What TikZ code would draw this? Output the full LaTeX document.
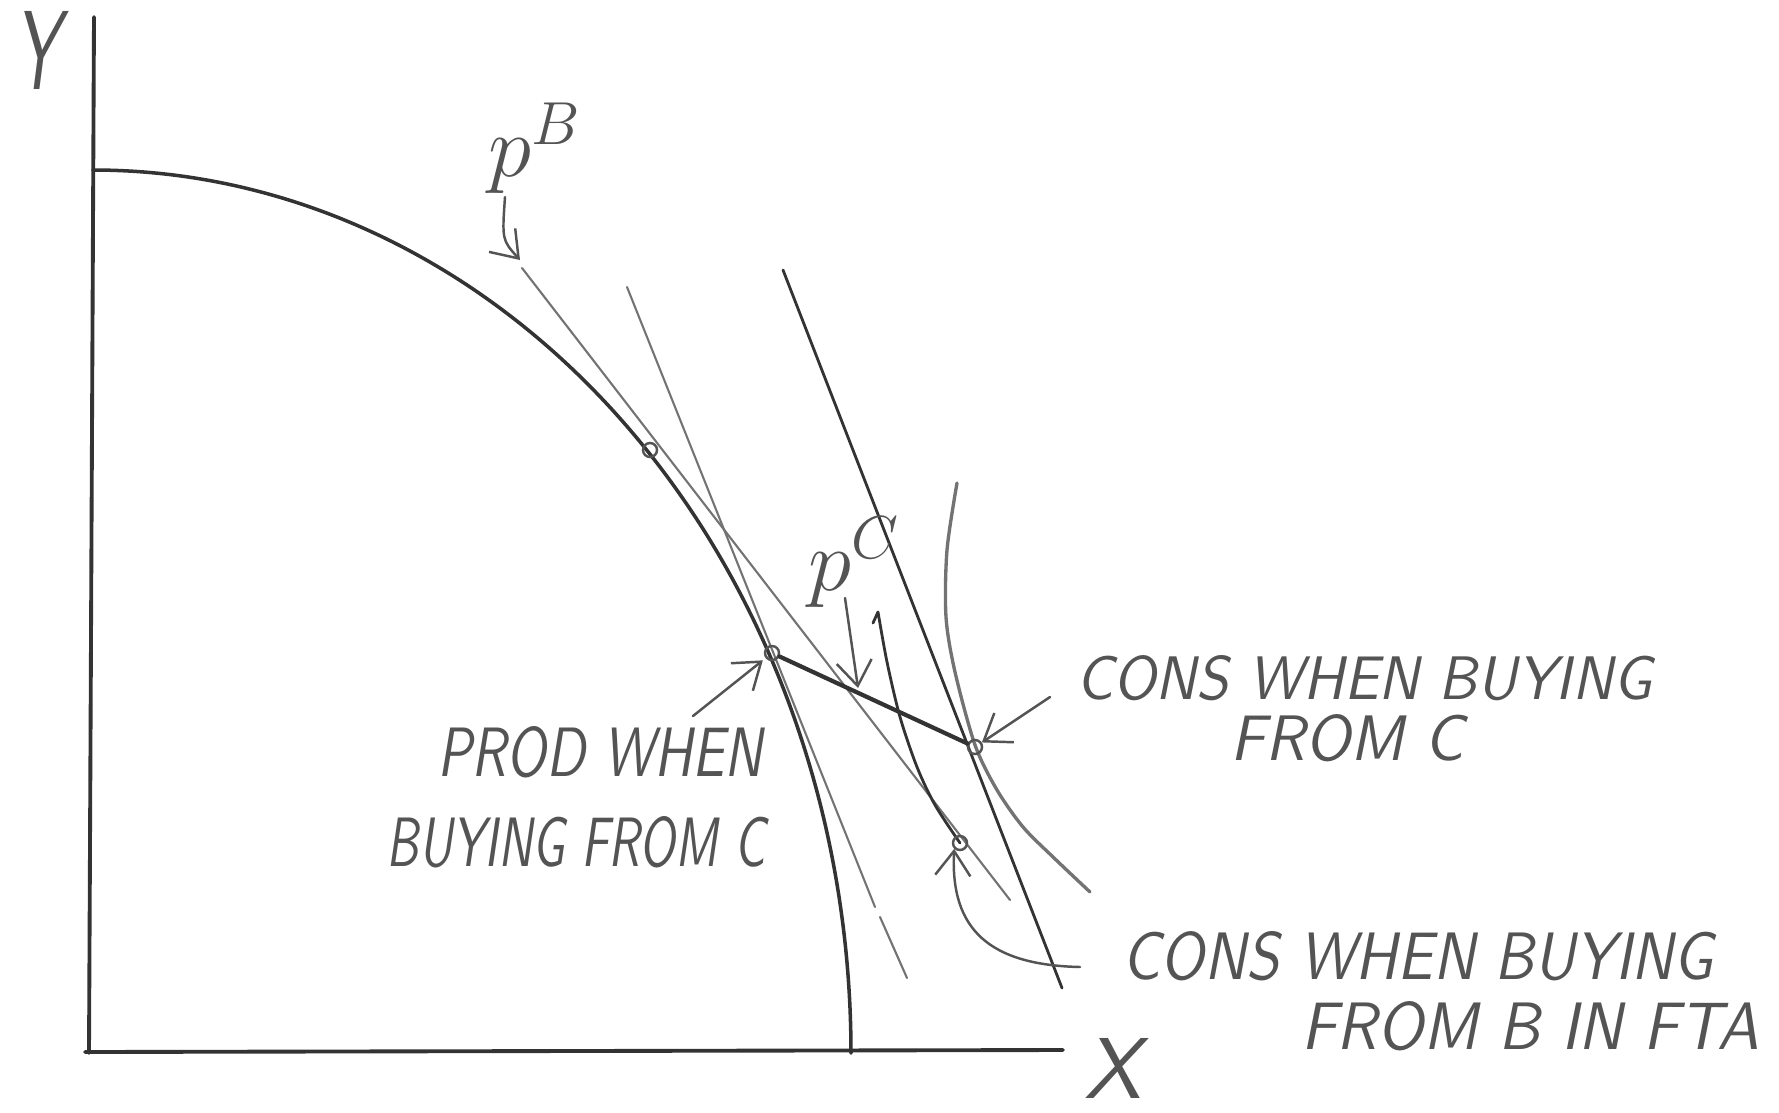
\documentclass[tikz,border=0pt]{standalone}
\usetikzlibrary{arrows.meta}
\usepackage{graphicx}
\definecolor{pencil}{gray}{0.2}
\definecolor{pencilmid}{gray}{0.33}
\definecolor{pencillight}{gray}{0.45}
\newcommand{\hw}[3]{\resizebox{#1cm}{#2cm}{\sffamily\slshape #3}}
\tikzset{
  axisline/.style={draw=pencil, line width=1.1pt, line cap=round},
  ppfline/.style={draw=pencil, line width=1.0pt, line cap=round},
  thinline/.style={draw=pencillight, line width=0.6pt, line cap=round},
  darkline/.style={draw=pencil, line width=0.8pt, line cap=round},
  tradeline/.style={draw=pencil, line width=1.2pt, line cap=round},
  indiffline/.style={draw=pencillight, line width=0.95pt, line cap=round},
  ptr/.style={draw=pencilmid, line width=0.7pt, line cap=round, -{Straight Barb[length=7pt,width=10pt]}},
  dotpt/.style={circle, draw=pencilmid, line width=0.7pt, inner sep=0pt, minimum size=0.14cm},
  lbl/.style={text=pencilmid, inner sep=0pt}
}
\begin{document}
\begin{tikzpicture}[x=0.01cm, y=-0.01cm]
\useasboundingbox[fill=white] (0,0) rectangle (1779,1112);

% axes
\coordinate (ytop) at (94,17);
\coordinate (ybot) at (89,1053);
\coordinate (xleft) at (85,1052);
\coordinate (xright) at (1063,1050);
\draw[axisline] (ytop) -- (ybot);
\draw[axisline] (xleft) -- (xright);

% production possibility frontier
\draw[ppfline] plot[domain=90:0, samples=90, smooth] ({93+758*cos(\x)},{1053-883*sin(\x)});

% price line p^B
\coordinate (pBa) at (522,268);
\coordinate (pBb) at (1010,900);
\draw[thinline] (pBa) -- (pBb);

% price line p^C tangent at production
\coordinate (pCa) at (627,287);
\coordinate (pCm) at (875,907);
\coordinate (pCn) at (880,917);
\coordinate (pCb) at (907,978);
\draw[thinline] (pCa) -- (pCm);
\draw[thinline] (pCn) -- (pCb);

% parallel p^C line through consumption
\coordinate (pDa) at (783,270);
\coordinate (pDb) at (1062,988);
\draw[darkline] (pDa) -- (pDb);

% lower indifference curve
\draw[darkline] (873,623) -- (878,612) plot[smooth] coordinates {(878,612) (887,662) (900,717) (917,767) (935,805) (960,843)};

% higher indifference curve
\draw[indiffline] plot[smooth] coordinates {(957,483) (947,550) (946,617) (955,672) (975,745) (997,790) (1023,827) (1053,857) (1090,892)};

% points
\node[dotpt] (dB) at (650,450) {};
\node[dotpt] (prod) at (772,653) {};
\node[dotpt] (cC) at (975,747) {};
\node[dotpt] (cB) at (960,843) {};

% trade segment
\draw[tradeline] (prod) -- (cC);

% labels
\node[lbl] (Ylab) at (37,50) {\hw{0.45}{0.78}{Y}};
\node[lbl] (Xlab) at (1113,1068) {\hw{0.57}{0.6}{X}};
\node[lbl, anchor=base west] (pBlab) at (488,176) {\fontsize{24}{28}\selectfont $p^{B}$};
\node[lbl, anchor=base west] (pClab) at (808,590) {\fontsize{24}{28}\selectfont $p^{C}$};

\node[lbl] (prodA) at (600,752) {\hw{3.25}{0.5}{PROD WHEN}};
\node[lbl] (prodB) at (576,842) {\hw{3.78}{0.5}{BUYING FROM C}};
\node[lbl] (consCa) at (1364,678) {\hw{5.75}{0.44}{CONS WHEN BUYING}};
\node[lbl] (consCb) at (1347,738) {\hw{2.33}{0.46}{FROM C}};
\node[lbl] (consBa) at (1418,956) {\hw{5.9}{0.48}{CONS WHEN BUYING}};
\node[lbl] (consBb) at (1530,1026) {\hw{4.57}{0.48}{FROM B IN FTA}};

% pointers
\coordinate (pBtail) at (505,197);
\coordinate (pBtip) at (520,260);
\draw[ptr] (pBtail) .. controls (502,240) .. (pBtip);

\coordinate (pCtail) at (845,598);
\coordinate (pCtip) at (858,688);
\draw[ptr] (pCtail) -- (pCtip);

\coordinate (prodtail) at (693,716);
\draw[ptr, shorten >=1pt] (prodtail) -- (prod);

\coordinate (cCtail) at (1050,697);
\draw[ptr] (cCtail) -- (cC);

\coordinate (cBtail) at (1080,967);
\draw[ptr] (cBtail) .. controls (990,965) and (950,930) .. (cB.south west);
\end{tikzpicture}
\end{document}
